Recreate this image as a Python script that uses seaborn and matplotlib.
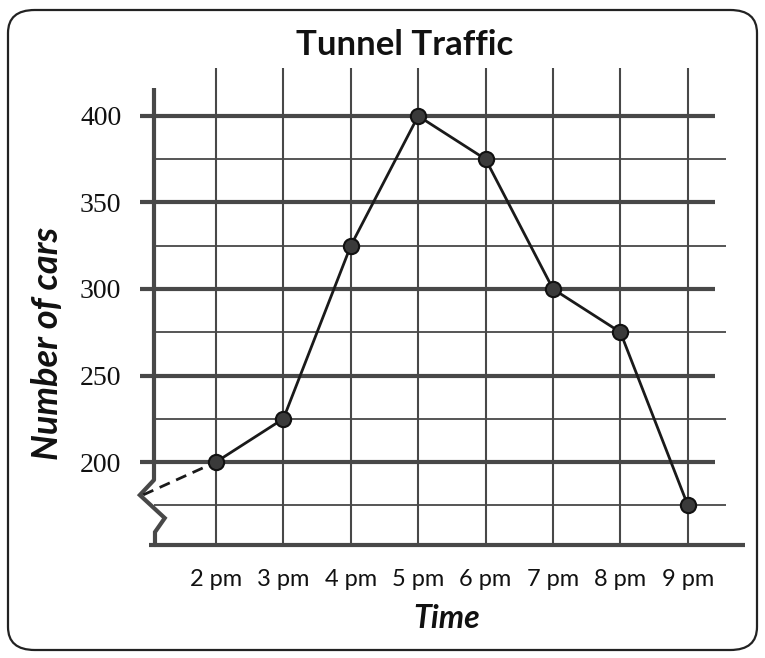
import numpy as np
import pandas as pd
import matplotlib
matplotlib.use('Agg')
import matplotlib.pyplot as plt
import seaborn as sns
from matplotlib.patches import FancyBboxPatch

times = ['2 pm', '3 pm', '4 pm', '5 pm', '6 pm', '7 pm', '8 pm', '9 pm']
cars = [200, 225, 325, 400, 375, 300, 275, 175]
major_ticks = [200, 250, 300, 350, 400]
minor_ticks = [175, 225, 275, 325, 375]
lead_in = 181  # dashed line starts here on the broken axis

sns.set_theme(style='white')
plt.rcParams['font.family'] = ['Lato', 'DejaVu Sans']

df = pd.DataFrame({'time': np.arange(len(times)), 'cars': cars})

fig = plt.figure(figsize=(7.65, 6.58), dpi=100)
ax = fig.add_axes([0.1678, 0.1664, 0.8106, 0.7362])
ax.set_xlim(-1.3, 7.9)
ax.set_ylim(150, 430)
for s in ax.spines.values():
    s.set_visible(False)

grid = '#484848'
ax.vlines(df['time'], 152, 428, color=grid, lw=1.5)
ax.hlines(major_ticks, -1.12, 7.4, color=grid, lw=3)
ax.hlines(minor_ticks, -0.92, 7.56, color=grid, lw=1.3)

# y axis with the zigzag break near the bottom
ax.plot([-0.92, -0.92], [416, 189.6], color=grid, lw=3, solid_capstyle='butt')
ax.plot([-0.92, -1.13, -0.76, -0.905, -0.905], [189.6, 180.9, 167.6, 159.5, 152],
        color=grid, lw=3, solid_joinstyle='miter')
ax.hlines(152, -0.99, 7.85, color=grid, lw=3)

ax.plot([-1.08, 0], [lead_in, cars[0]], ls=(0, (4, 2.5)), color='#1a1a1a', lw=2)
sns.lineplot(data=df, x='time', y='cars', color='#1a1a1a', lw=2, marker='o',
             markersize=11, markerfacecolor='#3a3a3a', markeredgecolor='#111',
             markeredgewidth=1.5, ax=ax, zorder=5)

ax.set_xticks(range(len(times)), times)
ax.set_yticks(major_ticks)
ax.tick_params(length=0)
ax.tick_params(axis='x', pad=15)
ax.tick_params(axis='y', pad=5)
for t in ax.get_xticklabels():
    t.set_fontsize(17)
    t.set_color('#111')
for t in ax.get_yticklabels():
    t.set_family(['Liberation Serif', 'DejaVu Serif'])
    t.set_fontsize(20)
    t.set_color('#111')
ax.set_xlabel('')
ax.set_ylabel('')

fig.text(405 / 765, 1 - 45 / 658, 'Tunnel Traffic', ha='center', va='center',
         fontsize=25, fontweight='bold', color='#111')
fig.text(48 / 765, 1 - 343 / 658, 'Number of cars', rotation=90, ha='center',
         va='center', fontsize=26, fontweight='bold', fontstyle='italic', color='#111')
fig.text(447 / 765, 1 - 618 / 658, 'Time', ha='center', va='center',
         fontsize=23, fontweight='bold', fontstyle='italic', color='#111')

box = FancyBboxPatch((8 / 765, 8 / 658), 749 / 765, 640 / 658,
                     boxstyle='round,pad=0,rounding_size=0.035',
                     transform=fig.transFigure, fill=False, ec='#222', lw=1.6)
fig.patches.append(box)

fig.savefig('out.png', dpi=100)
